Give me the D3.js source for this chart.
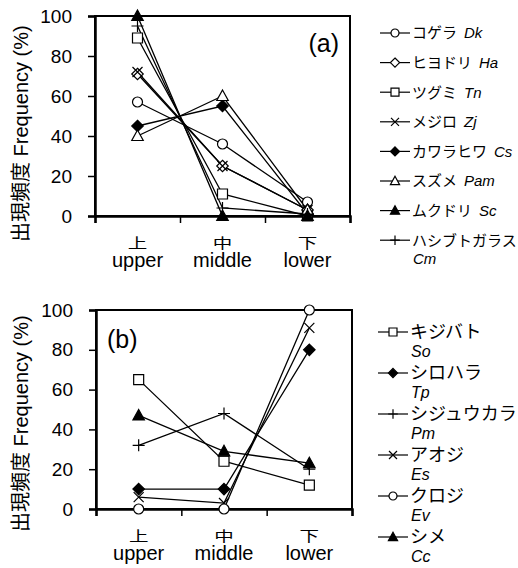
<!DOCTYPE html>
<html>
<head>
<meta charset="utf-8">
<script src="https://d3js.org/d3.v7.min.js"></script>
<style>
    body { margin: 0; background: #fff; }
    svg text { font-family: "Liberation Sans", Arial, "Noto Sans CJK JP", sans-serif; fill: #000; }
</style>
</head>
<body>
<svg width="518" height="568"></svg>
<script>
    // categories (elevation position)
    const cats = ['上', '中', '下'];
    const catsEn = ['upper', 'middle', 'lower'];
    const yTicks = [0, 20, 40, 60, 80, 100];

    // panel (a)
    const speciesA = ['コゲラ', 'ヒヨドリ', 'ツグミ', 'メジロ', 'カワラヒワ', 'スズメ', 'ムクドリ', 'ハシブトガラス'];
    const sciA = ['Dk', 'Ha', 'Tn', 'Zj', 'Cs', 'Pam', 'Sc', 'Cm'];
    const markA = ['circle', 'diamond', 'square', 'x', 'diamondFill', 'triangle', 'triangleFill', 'plus'];
    const valuesA = [
        [57, 36, 7],
        [71, 25, 3],
        [89, 11, 0],
        [72, 25, 3],
        [45, 55, 1],
        [40, 60, 3],
        [100, 0, 0],
        [95, 4, 1]
    ];

    // panel (b)
    const speciesB = ['キジバト', 'シロハラ', 'シジュウカラ', 'アオジ', 'クロジ', 'シメ'];
    const sciB = ['So', 'Tp', 'Pm', 'Es', 'Ev', 'Cc'];
    const markB = ['square', 'diamondFill', 'plus', 'x', 'circle', 'triangleFill'];
    const valuesB = [
        [65, 24, 12],
        [10, 10, 80],
        [32, 48, 20],
        [6, 3, 91],
        [0, 0, 100],
        [47, 29, 23]
    ];

    const svg = d3.select('svg');

    function marker(g, type, s) {
        var filled = type.indexOf('Fill') > 0;
        var fill = filled ? '#000' : '#fff';
        var p;
        if (type == 'circle') {
            return g.append('circle').attr('r', s).attr('fill', fill).attr('stroke', '#000').attr('stroke-width', 1.2);
        }
        if (type == 'square') p = `M${-s},${-s}H${s}V${s}H${-s}Z`;
        if (type.startsWith('diamond')) p = `M0,${-s * 1.15}L${s * 1.15},0L0,${s * 1.15}L${-s * 1.15},0Z`;
        if (type.startsWith('triangle')) p = `M0,${-s * 1.2}L${s * 1.15},${s * 0.9}L${-s * 1.15},${s * 0.9}Z`;
        if (type == 'x') p = `M${-s},${-s}L${s},${s}M${-s},${s}L${s},${-s}`;
        if (type == 'plus') p = `M${-s * 1.2},0H${s * 1.2}M0,${-s * 1.2}V${s * 1.2}`;
        return g.append('path').attr('d', p)
            .attr('fill', (type == 'x' || type == 'plus') ? 'none' : fill)
            .attr('stroke', '#000').attr('stroke-width', 1.2);
    }

    function panel(cfg) {
        var x = d3.scaleBand().domain(cats).range([cfg.left, cfg.right]);
        var xEdge = d3.scaleLinear().domain([0, 3]).range([cfg.left, cfg.right]);
        var y = d3.scaleLinear().domain([0, 100]).range([cfg.bottom, cfg.top]);
        var cx = function (i) { return x(cats[i]) + x.bandwidth() / 2; };

        // frame
        svg.append('rect')
            .attr('x', cfg.left).attr('y', cfg.top)
            .attr('width', cfg.right - cfg.left).attr('height', cfg.bottom - cfg.top)
            .attr('fill', 'none').attr('stroke', '#000').attr('stroke-width', 2);

        var ya = svg.append('g')
            .attr('transform', `translate(${cfg.left},0)`)
            .call(d3.axisLeft(y).tickValues(yTicks).tickSize(7).tickPadding(16));
        ya.select('.domain').attr('stroke-width', 2.5);
        ya.selectAll('line').attr('stroke-width', 1.5);
        ya.selectAll('text').style('font-size', '19px');

        var xa = svg.append('g')
            .attr('transform', `translate(0,${cfg.bottom})`)
            .call(d3.axisBottom(xEdge).tickValues([0, 1, 2, 3]).tickFormat('').tickSize(7));
        xa.select('.domain').attr('stroke-width', 2.5);
        xa.selectAll('line').attr('stroke-width', 1.5);

        cats.forEach(function (c, i) {
            // kanji drawn a bit flatter, as in the original figure
            svg.append('text')
                .attr('transform', `translate(${cx(i)},${cfg.bottom + 32}) scale(1.15,0.8)`)
                .attr('text-anchor', 'middle').style('font-size', '17px').text(c);
            svg.append('text').attr('x', cx(i)).attr('y', cfg.bottom + 51)
                .attr('text-anchor', 'middle').style('font-size', '20px').text(catsEn[i]);
        });

        svg.append('text')
            .attr('transform', `translate(28,${cfg.titleY}) rotate(-90)`)
            .style('font-size', '20px')
            .text('出現頻度 Frequency (%)');

        svg.append('text').attr('x', cfg.labX).attr('y', cfg.labY)
            .attr('text-anchor', cfg.labAnchor)
            .style('font-size', '25px').text(cfg.label);

        var line = d3.line().x(function (d, i) { return cx(i); }).y(function (d) { return y(d); });
        var g = svg.append('g');
        cfg.values.forEach(function (vals, k) {
            g.append('path').attr('d', line(vals))
                .attr('fill', 'none').attr('stroke', '#000').attr('stroke-width', 1.3);
        });
        cfg.values.forEach(function (vals, k) {
            vals.forEach(function (v, i) {
                var m = g.append('g').attr('transform', `translate(${cx(i)},${y(v)})`);
                marker(m, cfg.marks[k], 5);
            });
        });

        // legend
        cfg.names.forEach(function (n, k) {
            var ly = cfg.legTop + k * cfg.legStep;
            var lg = svg.append('g').attr('transform', `translate(${cfg.legX},${ly})`);
            lg.append('line').attr('x1', 0).attr('x2', 30).attr('stroke', '#000').attr('stroke-width', 1.2);
            var mg = lg.append('g').attr('transform', 'translate(15,0)');
            marker(mg, cfg.marks[k], 4);
            if (cfg.twoLine) {
                lg.append('text').attr('x', 32).attr('y', 0).attr('dy', '0.36em')
                    .style('font-size', cfg.legFont + 'px').text(n);
                lg.append('text').attr('x', 33).attr('y', cfg.legFont + 1).attr('dy', '0.36em')
                    .style('font-size', (cfg.legFont - 2) + 'px').style('font-style', 'italic').text(cfg.sci[k]);
            } else {
                var t = lg.append('text').attr('x', 32).attr('y', 0).attr('dy', '0.36em')
                    .style('font-size', cfg.legFont + 'px');
                t.append('tspan').text(n);
                if (k == cfg.names.length - 1) {
                    lg.append('text').attr('x', 33).attr('y', 18).attr('dy', '0.36em')
                        .style('font-size', cfg.legFont + 'px').style('font-style', 'italic').text(cfg.sci[k]);
                } else {
                    t.append('tspan').attr('dx', 7).style('font-style', 'italic').text(cfg.sci[k]);
                }
            }
        });
    }

    panel({
        left: 95, right: 350, top: 16, bottom: 216, titleY: 242,
        label: '(a)', labX: 339, labY: 52, labAnchor: 'end',
        values: valuesA, marks: markA, names: speciesA, sci: sciA,
        legX: 380, legTop: 33, legStep: 29.6, legFont: 15, twoLine: false
    });

    panel({
        left: 96, right: 352, top: 310, bottom: 509, titleY: 532,
        label: '(b)', labX: 107, labY: 348, labAnchor: 'start',
        values: valuesB, marks: markB, names: speciesB, sci: sciB,
        legX: 378, legTop: 332, legStep: 41, legFont: 18, twoLine: true
    });
</script>
</body>
</html>
